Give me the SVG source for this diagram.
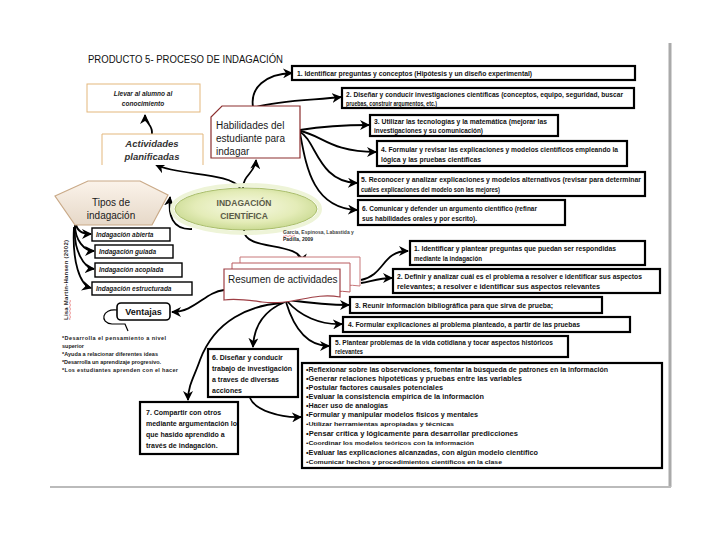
<svg xmlns="http://www.w3.org/2000/svg" width="720" height="540" viewBox="0 0 720 540">
<defs>
<marker id="ah" markerUnits="userSpaceOnUse" markerWidth="10" markerHeight="10" viewBox="0 0 10 10" refX="9" refY="5" orient="auto">
<path d="M0,0 L10,5 L0,10 L3,5 z" fill="#000"/>
</marker>
<radialGradient id="eg" cx="0.5" cy="0.45" r="0.6">
<stop offset="0" stop-color="#f7f9e4"/>
<stop offset="0.6" stop-color="#e4ecb8"/>
<stop offset="1" stop-color="#c4d68a"/>
</radialGradient>
<linearGradient id="tg" x1="0" y1="0" x2="0" y2="1">
<stop offset="0" stop-color="#fbf3ea"/>
<stop offset="1" stop-color="#e6d8c8"/>
</linearGradient>
<style>
.c{fill:none;stroke:#000;stroke-width:1.8;marker-end:url(#ah)}
.bx{fill:#fff;stroke:#000;stroke-width:2.2}
.bt{fill:#fff;stroke:#000;stroke-width:1.4}
.s{font-family:"Liberation Sans",Arial,sans-serif;font-size:6.5px;font-weight:bold;fill:#111}
.m{font-family:"Liberation Sans",Arial,sans-serif;font-size:7px;font-weight:bold;fill:#111}
.it{font-family:"Liberation Sans",Arial,sans-serif;font-size:6.5px;font-weight:bold;font-style:italic;fill:#1a1a1a}
.n{font-family:"Liberation Sans",Arial,sans-serif;font-size:10px;fill:#1a1a1a}
.orb{fill:#fff;stroke:#e3b77c;stroke-width:1}
</style>
</defs>
<rect width="720" height="540" fill="#fff"/>
<g id="page">
<line x1="670" y1="43" x2="670" y2="487" stroke="#aaa" stroke-width="3"/>
<line x1="50" y1="487" x2="671" y2="487" stroke="#bbb" stroke-width="2"/>
</g>
<text x="88" y="63" font-family="Liberation Sans, Arial, sans-serif" font-size="10.5" fill="#111" textLength="195" lengthAdjust="spacingAndGlyphs">PRODUCTO 5-  PROCESO DE INDAGACIÓN</text>

<g id="connectors">
<path class="c" d="M253,107 C250,88 265,74 292,73"/>
<path class="c" d="M256,107 C280,100 315,100 341,97"/>
<path class="c" d="M300,130 C325,126 345,125 369,125"/>
<path class="c" d="M300,131 C322,135 330,152 376,152"/>
<path class="c" d="M300,132 C316,140 318,182 357,183"/>
<path class="c" d="M300,133 C306,165 312,208 357,210"/>
<path class="c" d="M243,188 C243,175 255,173 256,160"/>
<path class="c" d="M240,188 C230,172 180,176 156,165"/>
<path class="c" d="M152,134 C153,124 145,124 145,115"/>
<path class="c" d="M192,229 C172,230 168,215 170,197"/>
<path class="c" d="M76,224 C77,231 82,234 91,234"/>
<path class="c" d="M75,225 C75,240 84,251 94,251"/>
<path class="c" d="M75,226 C73,250 84,268 94,269"/>
<path class="c" d="M74,227 C72,262 80,285 91,288"/>
<path class="c" d="M244,230 C244,252 300,240 303,263"/>
<path class="c" d="M361,280 C385,275 382,251 408,251"/>
<path class="c" d="M361,283 C372,281 380,278 392,278"/>
<path class="c" d="M288,300 C310,303 330,305 349,305"/>
<path class="c" d="M287,301 C300,316 320,325 342,324"/>
<path class="c" d="M286,302 C295,332 310,346 329,346"/>
<path class="c" d="M285,302 C265,310 254,325 253,347"/>
<path class="c" d="M283,303 C250,305 215,320 200,360 C195,375 188,385 188,400"/>
<path class="c" d="M250,398 C255,410 280,418 301,417"/>
<path class="c" d="M224,290 C205,292 195,312 172,312"/>
</g>

<g id="llevar">
<rect class="orb" x="87" y="84" width="113" height="28"/>
<text class="it" x="143" y="96" text-anchor="middle">Llevar al alumno al</text>
<text class="it" x="143" y="106" text-anchor="middle">conocimiento</text>
</g>
<g id="actividades">
<path class="orb" d="M102,165 V134 H203 V165"/>
<text x="152" y="147" text-anchor="middle" font-family="Liberation Sans, Arial, sans-serif" font-size="9.5" font-weight="bold" font-style="italic" fill="#333">Actividades</text>
<text x="152" y="160" text-anchor="middle" font-family="Liberation Sans, Arial, sans-serif" font-size="9.5" font-weight="bold" font-style="italic" fill="#333">planificadas</text>
</g>
<g id="habilidades">
<path d="M211,158 V117 L222,106 H300 V158 Z" fill="#fff" stroke="#8b2e2e" stroke-width="1.2"/>
<text class="n" x="216" y="129">Habilidades del</text>
<text class="n" x="216" y="142">estudiante para</text>
<text class="n" x="216" y="155">indagar</text>
</g>

<g id="b1"><rect class="bx" x="292" y="66" width="343" height="14"/>
<text class="s" x="297" y="76" textLength="235" lengthAdjust="spacingAndGlyphs">1. Identificar preguntas y conceptos (Hipótesis y un diseño experimental)</text></g>
<g id="b2"><rect class="bx" x="342" y="88" width="292" height="20"/>
<text class="s" x="346" y="97" textLength="277" lengthAdjust="spacingAndGlyphs">2. Diseñar y conducir investigaciones científicas (conceptos, equipo, seguridad, buscar</text>
<text class="s" x="346" y="105.5" textLength="91" lengthAdjust="spacingAndGlyphs">pruebas, construir argumentos, etc.)</text></g>
<g id="b3"><rect class="bx" x="370" y="115" width="188" height="21"/>
<text class="s" x="374" y="124" textLength="173" lengthAdjust="spacingAndGlyphs">3. Utilizar las tecnologías y la matemática (mejorar las</text>
<text class="s" x="374" y="133" textLength="109" lengthAdjust="spacingAndGlyphs">investigaciones y su comunicación)</text></g>
<g id="b4"><rect class="bx" x="377" y="141" width="250" height="25"/>
<text class="s" x="381" y="152" textLength="237" lengthAdjust="spacingAndGlyphs">4. Formular y revisar las explicaciones y modelos científicos empleando la</text>
<text class="s" x="381" y="162" textLength="100" lengthAdjust="spacingAndGlyphs">lógica y las pruebas científicas</text></g>
<g id="b5"><rect class="bx" x="358" y="172" width="287" height="24"/>
<text class="s" x="361" y="182" textLength="280" lengthAdjust="spacingAndGlyphs">5. Reconocer y analizar explicaciones y modelos alternativos (revisar para determinar</text>
<text class="s" x="361" y="192" textLength="139" lengthAdjust="spacingAndGlyphs">cuáles explicaciones del modelo son las mejores)</text></g>
<g id="b6"><rect class="bx" x="358" y="200" width="207" height="25"/>
<text class="s" x="362" y="211" textLength="175" lengthAdjust="spacingAndGlyphs">6. Comunicar y defender un argumento científico (refinar</text>
<text class="s" x="362" y="221" textLength="115" lengthAdjust="spacingAndGlyphs">sus habilidades orales y por escrito).</text></g>

<g id="tipos">
<path d="M55,196 L88,181 L140,181 L168,195 L152,225 L75,225 Z" fill="url(#tg)" stroke="#c9a987" stroke-width="1.2"/>
<text class="n" x="111" y="206" text-anchor="middle">Tipos de</text>
<text class="n" x="111" y="219" text-anchor="middle">indagación</text>
</g>
<g id="ciencia">
<ellipse cx="246" cy="209" rx="74" ry="24" fill="none" stroke="#eef4d8" stroke-width="4"/>
<ellipse cx="246" cy="209" rx="71" ry="21" fill="url(#eg)" stroke="#a9bd6a" stroke-width="1"/>
<text x="244" y="206" text-anchor="middle" font-family="Liberation Sans, Arial, sans-serif" font-size="8.5" font-weight="bold" fill="#5b5b48">INDAGACIÓN</text>
<text x="244" y="219" text-anchor="middle" font-family="Liberation Sans, Arial, sans-serif" font-size="8.5" font-weight="bold" fill="#5b5b48">CIENTÍFICA</text>
</g>
<g id="cita">
<text x="283" y="234" font-family="Liberation Sans, Arial, sans-serif" font-size="5" font-weight="bold" fill="#444">García, Espinosa, Labastida y</text>
<text x="283" y="241" font-family="Liberation Sans, Arial, sans-serif" font-size="5" font-weight="bold" fill="#222">Padilla, 2009</text>
<path d="M283,236 q1,1 2,0 t2,0 t2,0 t2,0 t2,0 t2,0" fill="none" stroke="#e05050" stroke-width="0.6"/>
</g>

<g id="t1"><rect class="bt" x="92" y="228" width="78" height="13"/><text class="it" x="96" y="237">Indagación abierta</text></g>
<g id="t2"><rect class="bt" x="95" y="245" width="78" height="13"/><text class="it" x="99" y="254">Indagación guiada</text></g>
<g id="t3"><rect class="bt" x="95" y="263" width="87" height="14"/><text class="it" x="99" y="272">Indagación acoplada</text></g>
<g id="t4"><rect class="bt" x="92" y="282" width="100" height="13"/><text class="it" x="96" y="291">Indagación estructurada</text></g>
<g id="autor">
<text transform="translate(68,320) rotate(-90)" font-family="Liberation Sans, Arial, sans-serif" font-size="6" font-weight="bold" fill="#222" textLength="80">Lisa Martin-Hansen  (2002)</text>
<path d="M70,300 q1,1 0,2 t0,2 t0,2 t0,2 t0,2 t0,2 t0,2 t0,2 t0,2 t0,2" fill="none" stroke="#e05050" stroke-width="0.6"/>
</g>

<g id="resumen">
<path d="M240,257 H360 V286 C340,283 320,290 300,288 L240,288 Z" fill="#fff" stroke="#c8787a" stroke-width="1"/>
<path d="M232,263 H350 V292 C330,289 310,296 290,294 L232,294 Z" fill="#fff" stroke="#b85a5e" stroke-width="1"/>
<path d="M224,269 H340 V297 C312,292 292,306 262,302 C248,300 236,298 224,300 Z" fill="#fff" stroke="#9e3e44" stroke-width="1.2"/>
<text class="n" x="228" y="283">Resumen de actividades</text>
</g>

<g id="r1"><rect class="bx" x="410" y="241" width="235" height="24"/>
<text class="s" x="414" y="251" textLength="202" lengthAdjust="spacingAndGlyphs">1. Identificar y plantear preguntas que puedan ser respondidas</text>
<text class="s" x="414" y="261" textLength="68" lengthAdjust="spacingAndGlyphs">mediante la indagación</text></g>
<g id="r2"><rect class="bx" x="393" y="269" width="267" height="24"/>
<text class="s" x="397" y="279" textLength="245" lengthAdjust="spacingAndGlyphs">2. Definir y analizar cuál es el problema a resolver e identificar sus aspectos</text>
<text class="s" x="397" y="289" textLength="203" lengthAdjust="spacingAndGlyphs">relevantes; a resolver e identificar sus aspectos relevantes</text></g>
<g id="r3"><rect class="bx" x="350" y="297" width="252" height="16"/>
<text class="s" x="355" y="307.5" textLength="198" lengthAdjust="spacingAndGlyphs">3. Reunir información bibliográfica para que sirva de prueba;</text></g>
<g id="r4"><rect class="bx" x="343" y="317" width="287" height="15"/>
<text class="s" x="348" y="327" textLength="232" lengthAdjust="spacingAndGlyphs">4. Formular explicaciones al problema planteado, a partir de las pruebas</text></g>
<g id="r5"><rect class="bx" x="330" y="336" width="238" height="21"/>
<text class="s" x="335" y="345" textLength="218" lengthAdjust="spacingAndGlyphs">5. Plantear problemas de la vida cotidiana y tocar aspectos históricos</text>
<text class="s" x="335" y="354" textLength="28" lengthAdjust="spacingAndGlyphs">relevantes</text></g>

<g id="ventajas">
<rect x="117" y="303" width="53" height="17" rx="4" fill="#fff" stroke="#000" stroke-width="1.6"/>
<text x="143.5" y="315" text-anchor="middle" font-family="Liberation Sans, Arial, sans-serif" font-size="9" font-weight="bold" fill="#111">Ventajas</text>
<path d="M117,310 C102,308 99,323 112,324 L125,324 L128,331" fill="none" stroke="#000" stroke-width="1.2"/>
</g>
<g id="ventlist" font-family="Liberation Sans, Arial, sans-serif" font-size="5.5" font-weight="bold" fill="#222">
<text x="62" y="340" textLength="104">*Desarrolla  el pensamiento a nivel</text>
<text x="62" y="348">superior</text>
<text x="62" y="356" textLength="96">*Ayuda a relacionar diferentes ideas</text>
<text x="62" y="364" textLength="99">*Desarrolla un aprendizaje progresivo.</text>
<text x="62" y="372" textLength="116">*Los estudiantes aprenden con el hacer</text>
</g>

<g id="b6l"><rect class="bx" x="208" y="349" width="90" height="48"/>
<text class="m" x="212" y="360">6. Diseñar y conducir</text>
<text class="m" x="212" y="371">trabajo de investigación</text>
<text class="m" x="212" y="382">a traves de diversas</text>
<text class="m" x="212" y="393">acciones</text></g>
<g id="b7"><rect class="bx" x="140" y="402" width="98" height="52"/>
<text class="m" x="146" y="415">7. Compartir con otros</text>
<text class="m" x="146" y="426">mediante argumentación lo</text>
<text class="m" x="146" y="437">que hasido aprendido a</text>
<text class="m" x="146" y="448">través de indagación.</text></g>

<g id="lista"><rect class="bx" x="302" y="363" width="360" height="105"/>
<g font-family="Liberation Sans, Arial, sans-serif" font-size="6.3" font-weight="bold" fill="#111">
<text x="306" y="372" textLength="302" lengthAdjust="spacingAndGlyphs">•Reflexionar sobre las observaciones, fomentar la búsqueda de patrones en la información</text>
<text x="306" y="381" textLength="216" lengthAdjust="spacingAndGlyphs">•Generar relaciones hipotéticas y pruebas entre las variables</text>
<text x="306" y="390" textLength="137" lengthAdjust="spacingAndGlyphs">•Postular factores causales potenciales</text>
<text x="306" y="399" textLength="178" lengthAdjust="spacingAndGlyphs">•Evaluar la consistencia empírica de la información</text>
<text x="306" y="408" textLength="82" lengthAdjust="spacingAndGlyphs">•Hacer uso de analogías</text>
<text x="306" y="417" textLength="172" lengthAdjust="spacingAndGlyphs">•Formular y manipular modelos físicos y mentales</text>
<text x="306" y="426" textLength="148" font-size="5.4" lengthAdjust="spacingAndGlyphs">•Utilizar herramientas apropiadas y técnicas</text>
<text x="306" y="436" textLength="212" lengthAdjust="spacingAndGlyphs">•Pensar crítica y lógicamente para desarrollar predicciones</text>
<text x="306" y="445" textLength="168" font-size="5.4" lengthAdjust="spacingAndGlyphs">•Coordinar los modelos teóricos con la información</text>
<text x="306" y="455" textLength="232" lengthAdjust="spacingAndGlyphs">•Evaluar las explicaciones alcanzadas, con algún modelo científico</text>
<text x="306" y="464" textLength="196" font-size="5.4" lengthAdjust="spacingAndGlyphs">•Comunicar hechos y procedimientos científicos en la clase</text>
</g></g>
</svg>
